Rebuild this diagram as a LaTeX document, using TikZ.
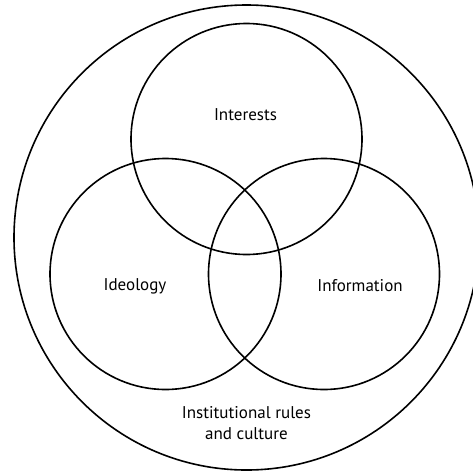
\documentclass[tikz,border=0pt]{standalone}
\usepackage{fontspec}
\setmainfont{PT Sans}
\begin{document}
\begin{tikzpicture}[x=1pt, y=-1pt, line width=1.6pt,
    label text/.style={font=\fontsize{17}{21}\selectfont, align=center, inner sep=0pt}]

    % constants
    \def\rsmall{115.5}
    \def\rbig{232.5}

    \useasboundingbox (0,0) rectangle (473,472);

    % centres of the circles
    \coordinate (outer) at (246.5,237.5);
    \coordinate (interests) at (246.5,139);
    \coordinate (ideology) at (165.5,274);
    \coordinate (information) at (324,274);

    % outer circle
    \draw (outer) circle [radius=\rbig];

    % the three inner circles
    \draw (interests) circle [radius=\rsmall];
    \draw (ideology) circle [radius=\rsmall];
    \draw (information) circle [radius=\rsmall];

    % labels
    \node [label text] (interestsText) at (245.5,115) {Interests};
    \node [label text] (ideologyText) at (135,286) {Ideology};
    \node [label text] (informationText) at (360,286) {Information};
    \node [label text] (rulesText) at (246.5,423) {Institutional rules\\and culture};

\end{tikzpicture}
\end{document}
